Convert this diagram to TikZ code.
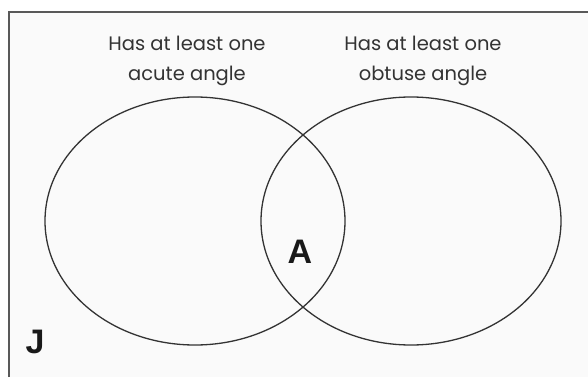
\documentclass[tikz,border=0pt]{standalone}
\usepackage{fontspec}
\setmainfont{Poppins}
\newfontfamily\boldsans{Liberation Sans}
\begin{document}
\begin{tikzpicture}[x=1pt,y=-1pt,
  frame/.style={draw=black!65,line width=1.8pt},
  setring/.style={draw=black!80,line width=1.3pt},
  caption/.style={text=black!80,font=\fontsize{19.5}{30}\selectfont,align=center},
  letter/.style={text=black!90,font=\fontsize{34}{34}\boldsans\bfseries}]
\useasboundingbox (0,0) rectangle (588,377);
\fill[white!98!black] (9,12) rectangle (588,377);
\coordinate (tl) at (9,12);
\coordinate (tr) at (588,12);
\coordinate (bl) at (9,377);
\draw[frame] (bl) -- (tl) -- (tr);
\draw[setring] (195,221) ellipse [x radius=150, y radius=124];
\draw[setring] (411,221) ellipse [x radius=150, y radius=124];
\node[caption] (acute) at (187,61) {Has at least one\\acute angle};
\node[caption] (obtuse) at (423,61) {Has at least one\\obtuse angle};
\node[letter] (a) at (300,252) {A};
\node[letter] (j) at (35,342) {J};
\end{tikzpicture}
\end{document}
